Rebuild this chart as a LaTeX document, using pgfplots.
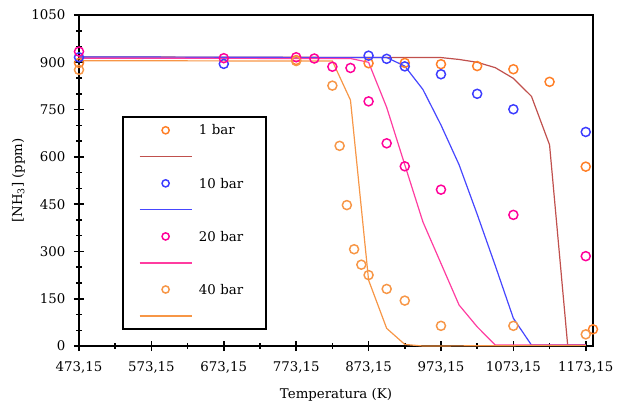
\documentclass[border=0pt]{standalone}
\usepackage{pgfplots}
\pgfplotsset{compat=1.18}
\usepackage{fontspec}
\setmainfont{DejaVu Serif}
\definecolor{cAm}{RGB}{255,127,39}
\definecolor{cAl}{RGB}{192,80,77}
\definecolor{cBm}{RGB}{60,60,255}
\definecolor{cBl}{RGB}{70,70,255}
\definecolor{cCm}{RGB}{255,0,153}
\definecolor{cCl}{RGB}{255,60,160}
\definecolor{cDm}{RGB}{247,150,70}
\definecolor{cDl}{RGB}{247,150,70}
\begin{document}
\begin{tikzpicture}
\begin{axis}[
  at={(0,0)}, anchor=south west,
  scale only axis, width=385.5pt, height=248.25pt,
  xmin=473.15, xmax=1183.15, ymin=0, ymax=1050,
  xtick={473.15,573.15,673.15,773.15,873.15,973.15,1073.15,1173.15},
  xticklabels={{473,15},{573,15},{673,15},{773,15},{873,15},{973,15},{1073,15},{1173,15}},
  ytick={0,150,300,450,600,750,900,1050},
  yticklabels={0,150,300,450,600,750,900,1050},
  minor x tick num=1, minor y tick num=2,
  tick align=center,
  major tick length=7.5pt, minor tick length=4pt,
  every tick/.style={black, line width=1.3pt},
  minor tick style={black, line width=1.1pt},
  xtick pos=bottom, ytick pos=left,
  axis line style={line width=1.8pt},
  tick label style={font=\fontsize{10}{12}\selectfont},
  xticklabel style={yshift=-4.5pt},
  yticklabel style={xshift=-3pt},
  label style={font=\fontsize{10}{12}\selectfont},
  xlabel={Temperatura (K)},
  xlabel style={yshift=-4.5pt},
  ylabel={[NH\textsubscript{3}] (ppm)},
  ylabel style={yshift=-2pt},
  clip=false,
  legend image code/.code={\draw[mark repeat=2,mark phase=2,#1,mark size=2.7pt] plot coordinates {(0pt,0pt) (19.5pt,0pt) (39pt,0pt)};},
  legend style={at={(rel axis cs:0.0837,0.695)}, anchor=north west,
    draw=black, line width=1.5pt, inner xsep=12pt, inner ysep=3.5pt,
    row sep=6.9pt, column sep=4pt,
    font=\fontsize{10}{12}\selectfont,
    nodes={text height=9pt, text depth=2pt, inner sep=1pt, text width=37.5pt}},
  legend cell align=left,
]
% 1 bar
\addplot[only marks, mark=o, mark size=3.4pt, cAm, line width=1.1pt] coordinates {
(473.15,898) (773.15,907) (873.15,897) (923.15,898) (973.15,894) (1023.15,888) (1073.15,878) (1123.15,838) (1173.15,569) (1183.15,53)};
\addlegendentry{1 bar}
\addplot[cAl, line width=0.9pt, no marks] coordinates {
(473.15,917) (973.15,915) (998.15,909) (1023.15,900) (1048.15,883) (1073.15,849) (1098.15,792) (1123.15,638) (1148.15,3) (1173.15,3)};
\addlegendentry{}
% 10 bar
\addplot[only marks, mark=o, mark size=3.4pt, cBm, line width=1.1pt] coordinates {
(473.15,916) (673.15,895) (873.15,921) (898.15,911) (923.15,887) (973.15,862) (1023.15,800) (1073.15,751) (1173.15,679)};
\addlegendentry{10 bar}
\addplot[cBl, line width=0.9pt, no marks] coordinates {
(473.15,917) (898.15,915) (923.15,888) (948.15,814) (973.15,701) (998.15,575) (1023.15,418) (1048.15,255) (1073.15,88) (1098.15,3) (1173.15,3)};
\addlegendentry{}
% 20 bar
\addplot[only marks, mark=o, mark size=3.4pt, cCm, line width=1.1pt] coordinates {
(473.15,934) (673.15,913) (773.15,916) (798.15,912) (823.15,886) (848.15,882) (873.15,776) (898.15,643) (923.15,570) (973.15,496) (1073.15,416) (1173.15,285)};
\addlegendentry{20 bar}
\addplot[cCl, line width=0.9pt, no marks] coordinates {
(473.15,913) (848.15,912) (873.15,900) (898.15,757) (923.15,575) (948.15,394) (973.15,262) (998.15,130) (1023.15,61) (1048.15,3) (1173.15,3)};
\addlegendentry{}
% 40 bar
\addplot[only marks, mark=o, mark size=3.4pt, cDm, line width=1.1pt] coordinates {
(473.15,876) (773.15,904) (823.15,826) (833.15,635) (843.15,447) (853.15,307) (863.15,258) (873.15,225) (898.15,181) (923.15,144) (973.15,64) (1073.15,64) (1173.15,37)};
\addlegendentry{40 bar}
\addplot[cDl, line width=0.9pt, no marks] coordinates {
(473.15,905) (823.15,904) (848.15,780) (873.15,209) (898.15,56) (923.15,5) (948.15,0) (1173.15,2)};
\addlegendentry{}
\end{axis}
\pgfresetboundingbox
\path (-59.25pt,-44.25pt) rectangle (408.75pt,259.5pt);
\end{tikzpicture}
\end{document}
